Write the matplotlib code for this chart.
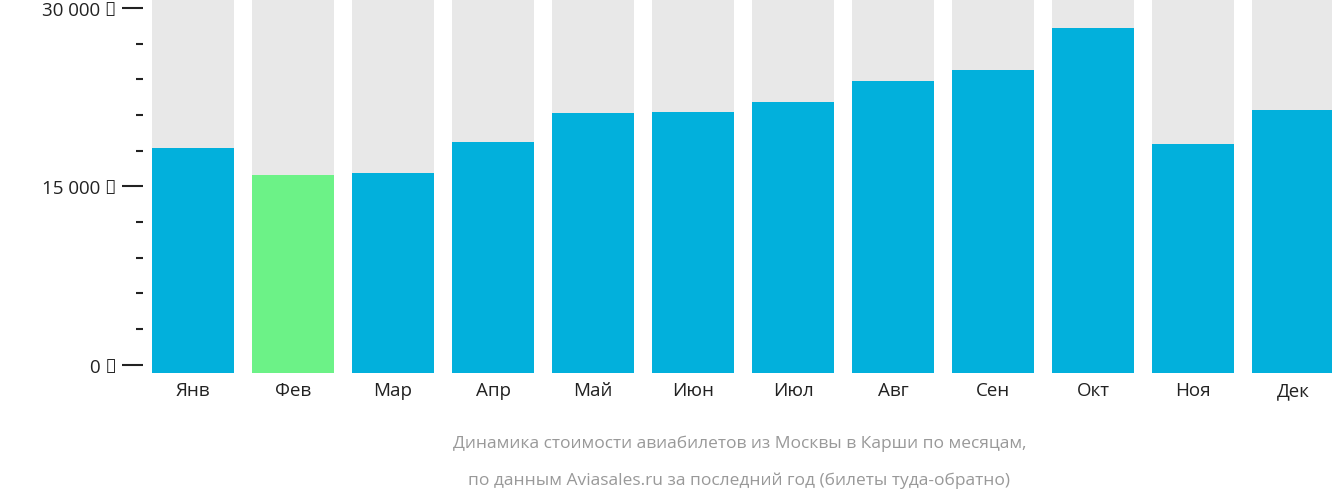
import matplotlib
matplotlib.use("Agg")
import matplotlib.pyplot as plt
from matplotlib.ticker import FixedLocator, MultipleLocator

months = ["Янв","Фев","Мар","Апр","Май","Июн","Июл","Авг","Сен","Окт","Ноя","Дек"]
prices = [18200, 15950, 16130, 18740, 21180, 21260, 22100, 23870, 24790, 28320, 18570, 21430]
highlight = "Фев"
ytick_vals = [0, 15000, 30000]
ytick_labels = ["0 ₽", "15 000 ₽", "30 000 ₽"]

plt.rcParams["font.family"] = "Open Sans"
fig = plt.figure(figsize=(13.32, 5.02), dpi=100)
ax = fig.add_axes([143/1332, 128/502, (1332-143)/1332, 374/502])
ymin, ymax = -700, 30756
x = list(range(len(months)))
ax.bar(x, [ymax-ymin]*len(x), bottom=ymin, width=0.82, color="#e8e8e8")
colors = ["#6cf287" if m == highlight else "#02b0dc" for m in months]
ax.bar(x, [p-ymin for p in prices], bottom=ymin, width=0.82, color=colors)
ax.set_xlim(-0.5, 11.39)
ax.set_ylim(ymin, ymax)
for s in ax.spines.values():
    s.set_visible(False)
ax.yaxis.set_major_locator(FixedLocator(ytick_vals))
ax.set_yticklabels(ytick_labels)
ax.yaxis.set_minor_locator(MultipleLocator(3000))
ax.tick_params(axis="y", which="major", length=15, width=1.5, color="#222", labelsize=13.5, labelcolor="#222", pad=4)
ax.tick_params(axis="y", which="minor", length=5, width=1.5, color="#222")
ax.set_xticks(x)
ax.set_xticklabels(months)
ax.tick_params(axis="x", length=0, labelsize=13.5, labelcolor="#222", pad=6)
fig.text(0.555, 1-444/502, "Динамика стоимости авиабилетов из Москвы в Карши по месяцам,", ha="center", va="center", fontsize=12.5, color="#999")
fig.text(0.555, 1-481/502, "по данным Aviasales.ru за последний год (билеты туда-обратно)", ha="center", va="center", fontsize=12.5, color="#999")
fig.savefig("out.png", dpi=100)
